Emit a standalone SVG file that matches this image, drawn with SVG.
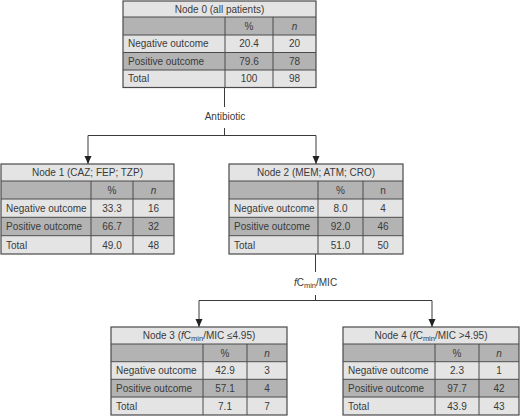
<svg xmlns="http://www.w3.org/2000/svg" width="520" height="417" viewBox="0 0 520 417">
<defs>
<style>
.lt{fill:#e4e4e4}
.dk{fill:#b3b3b3}
.gr{stroke:#4a4a4a;stroke-width:1;fill:none}
.ob{stroke:#4a4a4a;stroke-width:1.2;fill:none}
text{font-family:"Liberation Sans",Arial,sans-serif;font-size:10px;fill:#3a3a3a}
.c{text-anchor:middle}
.it{font-style:italic}
.con{stroke:#3a3a3a;stroke-width:1;fill:none}
</style>
<marker id="ah" viewBox="0 0 8 8" refX="8" refY="4" markerWidth="8" markerHeight="8" markerUnits="userSpaceOnUse" orient="auto">
<path d="M0,0.5 L8,4 L0,7.5 Z" fill="#222"/>
</marker>
</defs>
<rect width="520" height="417" fill="#fff"/>

<g id="connectors">
<path class="con" d="M224.5,87.5 V107"/>
<path class="con" d="M224.5,128 V135.5"/>
<path class="con" d="M88,135.5 H316"/>
<path class="con" d="M88,135.5 V164" marker-end="url(#ah)"/>
<path class="con" d="M316,135.5 V164" marker-end="url(#ah)"/>
<text class="c" x="225" y="120">Antibiotic</text>
<path class="con" d="M315.5,254 V272"/>
<path class="con" d="M315.5,295 V300.5"/>
<path class="con" d="M199,300.5 H432"/>
<path class="con" d="M199,300.5 V327" marker-end="url(#ah)"/>
<path class="con" d="M432,300.5 V327" marker-end="url(#ah)"/>
<text class="c" x="315.5" y="286"><tspan class="it">f</tspan>C<tspan font-size="7.5" dy="2">min</tspan><tspan dy="-2">/MIC</tspan></text>
</g>

<g id="node0">
<rect class="lt" x="123" y="1" width="193" height="16"/>
<rect class="dk" x="123" y="17" width="193" height="18"/>
<rect class="lt" x="123" y="35" width="193" height="17.5"/>
<rect class="dk" x="123" y="52.5" width="193" height="17.5"/>
<rect class="lt" x="123" y="70" width="193" height="17.5"/>
<path class="gr" d="M123,17 H316 M123,35 H316 M123,52.5 H316 M123,70 H316 M225,17 V87.5 M273,17 V87.5"/>
<rect class="ob" x="123" y="1" width="193" height="86.5"/>
<text class="c" x="219.5" y="12.5">Node 0 (all patients)</text>
<text class="c" x="249" y="29.5">%</text>
<text class="c it" x="294.5" y="29.5">n</text>
<text x="128" y="47">Negative outcome</text>
<text class="c" x="249" y="47">20.4</text>
<text class="c" x="294.5" y="47">20</text>
<text x="128" y="64.5">Positive outcome</text>
<text class="c" x="249" y="64.5">79.6</text>
<text class="c" x="294.5" y="64.5">78</text>
<text x="128" y="82">Total</text>
<text class="c" x="249" y="82">100</text>
<text class="c" x="294.5" y="82">98</text>
</g>

<g id="node1">
<rect class="lt" x="1" y="164" width="173" height="17"/>
<rect class="dk" x="1" y="181" width="173" height="18"/>
<rect class="lt" x="1" y="199" width="173" height="18.3"/>
<rect class="dk" x="1" y="217.3" width="173" height="18.4"/>
<rect class="lt" x="1" y="235.7" width="173" height="18.3"/>
<path class="gr" d="M1,181 H174 M1,199 H174 M1,217.3 H174 M1,235.7 H174 M91,181 V254 M133,181 V254"/>
<rect class="ob" x="1" y="164" width="173" height="90"/>
<text class="c" x="87.5" y="176">Node 1 (CAZ; FEP; TZP)</text>
<text class="c" x="112" y="193.5">%</text>
<text class="c it" x="153.5" y="193.5">n</text>
<text x="6" y="211.8">Negative outcome</text>
<text class="c" x="112" y="211.8">33.3</text>
<text class="c" x="153.5" y="211.8">16</text>
<text x="6" y="230.2">Positive outcome</text>
<text class="c" x="112" y="230.2">66.7</text>
<text class="c" x="153.5" y="230.2">32</text>
<text x="6" y="248.5">Total</text>
<text class="c" x="112" y="248.5">49.0</text>
<text class="c" x="153.5" y="248.5">48</text>
</g>

<g id="node2">
<rect class="lt" x="229" y="164" width="174" height="17"/>
<rect class="dk" x="229" y="181" width="174" height="18"/>
<rect class="lt" x="229" y="199" width="174" height="18.3"/>
<rect class="dk" x="229" y="217.3" width="174" height="18.4"/>
<rect class="lt" x="229" y="235.7" width="174" height="18.3"/>
<path class="gr" d="M229,181 H403 M229,199 H403 M229,217.3 H403 M229,235.7 H403 M318,181 V254 M363,181 V254"/>
<rect class="ob" x="229" y="164" width="174" height="90"/>
<text class="c" x="316" y="176">Node 2 (MEM; ATM; CRO)</text>
<text class="c" x="340.5" y="193.5">%</text>
<text class="c" x="383" y="193.5">n</text>
<text x="234" y="211.8">Negative outcome</text>
<text class="c" x="340.5" y="211.8">8.0</text>
<text class="c" x="383" y="211.8">4</text>
<text x="234" y="230.2">Positive outcome</text>
<text class="c" x="340.5" y="230.2">92.0</text>
<text class="c" x="383" y="230.2">46</text>
<text x="234" y="248.5">Total</text>
<text class="c" x="340.5" y="248.5">51.0</text>
<text class="c" x="383" y="248.5">50</text>
</g>

<g id="node3">
<rect class="lt" x="111" y="327" width="176" height="17"/>
<rect class="dk" x="111" y="344" width="176" height="17.7"/>
<rect class="lt" x="111" y="361.7" width="176" height="17.6"/>
<rect class="dk" x="111" y="379.3" width="176" height="17.7"/>
<rect class="lt" x="111" y="397" width="176" height="18"/>
<path class="gr" d="M111,344 H287 M111,361.7 H287 M111,379.3 H287 M111,397 H287 M203,344 V415 M247,344 V415"/>
<rect class="ob" x="111" y="327" width="176" height="88"/>
<text class="c" x="199" y="339">Node 3 (<tspan class="it">f</tspan>C<tspan font-size="7.5" dy="2">min</tspan><tspan dy="-2">/MIC ≤4.95)</tspan></text>
<text class="c" x="225" y="356.5">%</text>
<text class="c it" x="267" y="356.5">n</text>
<text x="116" y="374">Negative outcome</text>
<text class="c" x="225" y="374">42.9</text>
<text class="c" x="267" y="374">3</text>
<text x="116" y="391.6">Positive outcome</text>
<text class="c" x="225" y="391.6">57.1</text>
<text class="c" x="267" y="391.6">4</text>
<text x="116" y="409.5">Total</text>
<text class="c" x="225" y="409.5">7.1</text>
<text class="c" x="267" y="409.5">7</text>
</g>

<g id="node4">
<rect class="lt" x="343" y="327" width="176" height="17"/>
<rect class="dk" x="343" y="344" width="176" height="17.7"/>
<rect class="lt" x="343" y="361.7" width="176" height="17.6"/>
<rect class="dk" x="343" y="379.3" width="176" height="17.7"/>
<rect class="lt" x="343" y="397" width="176" height="18"/>
<path class="gr" d="M343,344 H519 M343,361.7 H519 M343,379.3 H519 M343,397 H519 M435,344 V415 M479,344 V415"/>
<rect class="ob" x="343" y="327" width="176" height="88"/>
<text class="c" x="431" y="339">Node 4 (<tspan class="it">f</tspan>C<tspan font-size="7.5" dy="2">min</tspan><tspan dy="-2">/MIC &gt;4.95)</tspan></text>
<text class="c" x="457" y="356.5">%</text>
<text class="c it" x="499" y="356.5">n</text>
<text x="348" y="374">Negative outcome</text>
<text class="c" x="457" y="374">2.3</text>
<text class="c" x="499" y="374">1</text>
<text x="348" y="391.6">Positive outcome</text>
<text class="c" x="457" y="391.6">97.7</text>
<text class="c" x="499" y="391.6">42</text>
<text x="348" y="409.5">Total</text>
<text class="c" x="457" y="409.5">43.9</text>
<text class="c" x="499" y="409.5">43</text>
</g>
</svg>
